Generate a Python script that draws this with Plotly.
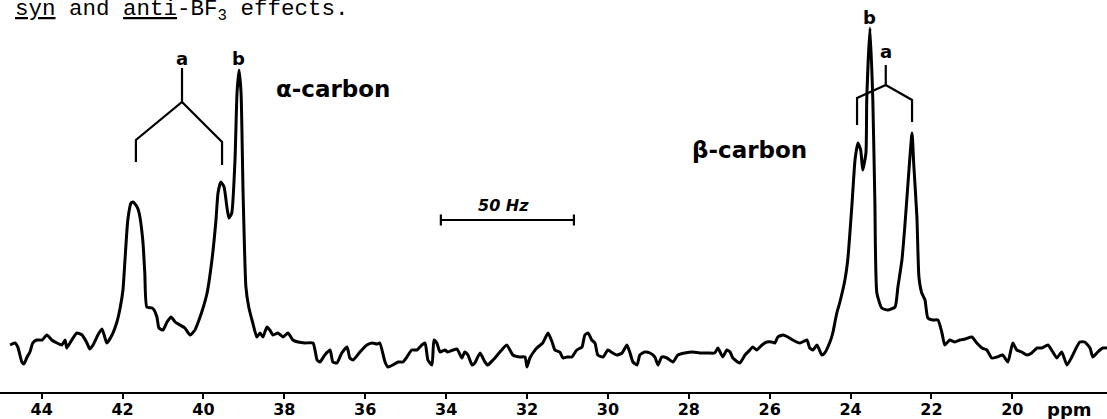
import plotly.graph_objects as go

# ---------------- data ----------------
# 13C spectrum, chemical shift (ppm) and intensity (arbitrary units)
alpha_ppm = [44.78, 44.66, 44.59, 44.49, 44.44, 44.36, 44.29, 44.22, 44.12, 43.99,
             43.87, 43.75, 43.62, 43.50, 43.42, 43.38, 43.30, 43.13, 43.00, 42.88,
             42.81, 42.73, 42.61, 42.51, 42.44, 42.39, 42.26, 42.14, 42.06, 41.99,
             41.94, 41.87, 41.79, 41.74, 41.64, 41.59, 41.50, 41.45, 41.40, 41.27,
             41.22, 41.15, 41.10, 41.00, 40.90, 40.80, 40.70, 40.58, 40.46, 40.33,
             40.21, 40.11, 40.01, 39.91, 39.79, 39.69, 39.64, 39.57, 39.49, 39.42,
             39.37, 39.30, 39.22, 39.17, 39.12, 39.07, 39.02, 38.95, 38.88, 38.78,
             38.68, 38.60, 38.53, 38.43, 38.36, 38.28, 38.16, 38.03, 37.91, 37.79,
             37.66, 37.49]
alpha_int = [5, 7, 3, -12, -14, -7, -2, 7, 10, 10,
             15, 10, 7, 5, 10, 2, 7, 17, 15, 7,
             1, 5, 15, 21, 13, 7, 15, 28, 42, 60,
             90, 130, 147, 148, 143, 137, 110, 77, 43, 42,
             40, 33, 22, 20, 28, 33, 28, 25, 22, 15,
             20, 30, 42, 57, 90, 130, 157, 168, 163, 143,
             132, 137, 190, 257, 280, 257, 157, 63, 43, 27,
             13, 17, 13, 23, 20, 15, 17, 13, 17, 10,
             8, 7]

mid_ppm = [37.29, 37.19, 37.12, 37.00, 36.87, 36.80, 36.70, 36.58, 36.45, 36.38,
           36.30, 36.13, 35.96, 35.83, 35.71, 35.64, 35.51, 35.44, 35.32, 35.19,
           35.07, 34.97, 34.85, 34.72, 34.60, 34.52, 34.45, 34.35, 34.30, 34.23,
           34.15, 34.03, 33.96, 33.83, 33.73, 33.61, 33.54, 33.46, 33.36, 33.29,
           33.16, 33.04, 32.97, 32.84, 32.67, 32.50, 32.35, 32.18, 32.05, 32.00,
           31.93, 31.76, 31.61, 31.48, 31.38, 31.31, 31.19, 31.11, 31.01, 30.89,
           30.77, 30.64, 30.57, 30.49, 30.40, 30.32, 30.25, 30.12, 30.00, 29.88,
           29.78, 29.65, 29.53, 29.46, 29.38, 29.28, 29.21, 29.09, 28.96, 28.84,
           28.76, 28.67, 28.54, 28.39, 28.27, 28.10, 27.90, 27.73, 27.53, 27.36,
           27.28, 27.16, 27.06, 26.98, 26.91, 26.74, 26.61, 26.49, 26.42, 26.32,
           26.19, 26.07, 25.95, 25.87, 25.80, 25.67, 25.55, 25.43, 25.25, 25.08,
           25.01, 24.93, 24.83, 24.71, 24.64]
mid_int = [7, -10, -12, -5, 0, -12, -13, -3, 3, -8,
           -10, -2, 5, 7, 6, 7, -12, -17, -15, -12,
           -12, -7, 0, 0, 5, 7, -10, -15, 10, 7,
           -2, 0, -2, 0, 1, -8, -2, -5, -15, -13,
           -3, -12, -15, -10, -2, 5, -5, -7, -7, -17,
           -8, 2, 7, 17, 8, 0, -2, -8, -7, -7,
           0, 3, 15, 17, 10, 7, -5, -7, 0, -3,
           -5, -3, 5, -2, -12, -15, -5, -2, -3, -7,
           -15, -7, -8, -12, -5, -3, -2, -3, -3, -3,
           2, -7, 0, -2, -8, -13, -5, 0, 3, 0,
           5, 8, 8, 7, 13, 15, 13, 10, 7, 10,
           2, 0, 5, -5, -3]

beta_ppm = [24.51, 24.44, 24.39, 24.34, 24.27, 24.14, 24.07, 23.97, 23.89, 23.82,
            23.75, 23.70, 23.62, 23.60, 23.52, 23.45, 23.40, 23.35, 23.23, 23.08,
            22.90, 22.83, 22.73, 22.66, 22.58, 22.48, 22.44, 22.36, 22.31, 22.24,
            22.16, 22.09, 21.97, 21.84, 21.74, 21.67, 21.55, 21.42, 21.30, 21.17,
            21.00, 20.88, 20.75, 20.63, 20.51, 20.38, 20.24, 20.11, 19.99, 19.89,
            19.77, 19.64, 19.52, 19.39, 19.27, 19.12, 19.00, 18.90, 18.78, 18.65,
            18.53, 18.41, 18.33, 18.21, 18.08, 18.01, 17.89, 17.76, 17.66]
beta_int = [8, 17, 27, 37, 47, 70, 90, 143, 190, 207,
            200, 180, 197, 250, 322, 250, 150, 57, 42, 40,
            43, 63, 90, 123, 167, 217, 187, 133, 73, 57,
            50, 32, 30, 30, 17, 5, 10, 8, 10, 11,
            13, 7, 2, 0, -8, -7, -5, -12, 7, 0,
            -2, -5, -3, 2, 2, 5, -2, -8, -2, -15,
            -7, 3, 8, 8, 2, -7, -2, 2, 2]

# bracket markers (a) : legs at the two 'a' lines, stem at their midpoint
alpha_a_lines = [41.67, 39.54]
alpha_a_center = 40.53
alpha_b_line = 39.14
beta_a_lines = [23.84, 22.48]
beta_a_center = 23.13
beta_b_line = 23.52

# 50 Hz scale bar
scale_bar_ppm = [34.13, 30.84]
scale_bar_label = "50 Hz"

tick_vals = [44, 42, 40, 38, 36, 34, 32, 30, 28, 26, 24, 22, 20]
tick_text = [str(v) for v in tick_vals]

# ---------------- figure ----------------
ppm = alpha_ppm + mid_ppm + beta_ppm
inten = alpha_int + mid_int + beta_int

fig = go.Figure()
fig.add_trace(go.Scatter(x=ppm, y=inten, mode="lines",
                         line=dict(color="black", width=3, shape="spline", smoothing=0.5),
                         hoverinfo="skip"))


def bracket(lines, center, leg_bot, leg_top, joint, stem_top):
    xs = [lines[0], lines[0], center, lines[1], lines[1], None, center, center]
    ys = [leg_bot[0], leg_top[0], joint, leg_top[1], leg_bot[1], None, joint, stem_top]
    return xs, ys


bx, by = bracket(alpha_a_lines, alpha_a_center, (188, 185), (210, 208), 248, 282)
fig.add_trace(go.Scatter(x=bx, y=by, mode="lines", line=dict(color="black", width=2.2),
                         hoverinfo="skip"))
bx, by = bracket(beta_a_lines, beta_a_center, (225, 228), (252, 250), 265, 285)
fig.add_trace(go.Scatter(x=bx, y=by, mode="lines", line=dict(color="black", width=2.2),
                         hoverinfo="skip"))

bar_y = 130
cap = 5.5
sx = [scale_bar_ppm[0], scale_bar_ppm[0], None, scale_bar_ppm[0], scale_bar_ppm[1], None,
      scale_bar_ppm[1], scale_bar_ppm[1]]
sy = [bar_y - cap, bar_y + cap, None, bar_y, bar_y, None, bar_y - cap, bar_y + cap]
fig.add_trace(go.Scatter(x=sx, y=sy, mode="lines", line=dict(color="black", width=2.2),
                         hoverinfo="skip"))

lab_font = dict(family="DejaVu Sans", size=18, color="black", weight="bold")
big_font = dict(family="DejaVu Sans", size=23, color="black", weight="bold")
ann = [
    dict(x=alpha_a_center, y=292, text="a", font=lab_font),
    dict(x=alpha_b_line, y=292, text="b", font=lab_font),
    dict(x=beta_b_line, y=333, text="b", font=lab_font),
    dict(x=beta_a_center, y=299, text="a", font=lab_font),
    dict(x=36.80, y=261, text="α-carbon", font=big_font),
    dict(x=26.49, y=200, text="β-carbon", font=big_font),
    dict(x=(scale_bar_ppm[0] + scale_bar_ppm[1]) / 2 + 0.1, y=145,
         text="<i>" + scale_bar_label + "</i>",
         font=dict(family="DejaVu Sans", size=16, color="black", weight="bold")),
]
for a in ann:
    a.update(xref="x", yref="y", showarrow=False, xanchor="center", yanchor="middle")
    fig.add_annotation(**a)

# unit label at the right end of the shift axis
fig.add_annotation(xref="x", yref="paper", x=18.58, y=-0.0434, xanchor="center", yanchor="middle",
                   showarrow=False, text="ppm",
                   font=dict(family="DejaVu Sans", size=18, color="black", weight="bold"))

fig.add_annotation(xref="paper", yref="paper", x=0.0117, y=0.972, xanchor="left", yanchor="middle",
                   showarrow=False,
                   text="<u>syn</u> and <u>anti</u>-BF<sub>3</sub> effects.",
                   font=dict(family="Liberation Mono", size=22.5, color="black"))

fig.update_layout(
    template="none",
    width=1107, height=419,
    margin=dict(l=0, r=0, t=0, b=27, pad=0),
    paper_bgcolor="white", plot_bgcolor="white",
    showlegend=False,
    xaxis=dict(range=[45.03, 17.66], showgrid=False, zeroline=False, automargin=False,
               showline=True, linecolor="black", linewidth=2,
               ticks="outside", ticklen=5, tickwidth=2, tickcolor="black",
               ticklabelstandoff=-3,
               tickvals=tick_vals, ticktext=tick_text,
               tickfont=dict(family="DejaVu Sans", size=16, color="black", weight="bold")),
    yaxis=dict(range=[-42, 350], visible=False, showgrid=False, zeroline=False, automargin=False),
)

fig.write_html("out.html", config={"displayModeBar": False},
               post_script="document.body.style.margin='0';document.body.style.padding='0';")
